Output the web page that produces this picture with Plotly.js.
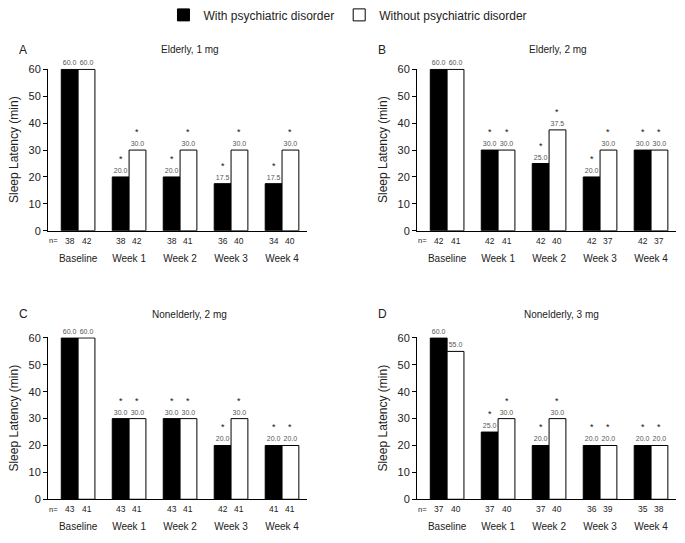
<!DOCTYPE html>
<html>
<head>
<meta charset="utf-8">
<script src="https://cdn.plot.ly/plotly-3.0.1.min.js"></script>
<style>body{margin:0;background:#fff}</style>
</head>
<body>
<div id="chart" style="width:685px;height:543px"></div>
<script>
const categories = ['Baseline', 'Week 1', 'Week 2', 'Week 3', 'Week 4'];
const seriesNames = ['With psychiatric disorder', 'Without psychiatric disorder'];

// panel A: Elderly, 1 mg
const elderly1With = [60, 20, 20, 17.5, 17.5];
const elderly1Without = [60, 30, 30, 30, 30];
const elderly1NWith = [38, 38, 38, 36, 34];
const elderly1NWithout = [42, 42, 41, 40, 40];
// panel B: Elderly, 2 mg
const elderly2With = [60, 30, 25, 20, 30];
const elderly2Without = [60, 30, 37.5, 30, 30];
const elderly2NWith = [42, 42, 42, 42, 42];
const elderly2NWithout = [41, 41, 40, 37, 37];
// panel C: Nonelderly, 2 mg
const nonelderly2With = [60, 30, 30, 20, 20];
const nonelderly2Without = [60, 30, 30, 30, 20];
const nonelderly2NWith = [43, 43, 43, 42, 41];
const nonelderly2NWithout = [41, 41, 41, 41, 41];
// panel D: Nonelderly, 3 mg
const nonelderly3With = [60, 25, 20, 20, 20];
const nonelderly3Without = [55, 30, 30, 20, 20];
const nonelderly3NWith = [37, 37, 37, 36, 35];
const nonelderly3NWithout = [40, 40, 40, 39, 38];
// significance marks (*), same for every panel: all weeks vs baseline
const sigWith = [false, true, true, true, true];
const sigWithout = [false, true, true, true, true];

const FONT = 'Arial, "Liberation Sans", sans-serif';
const BW = 0.33;

const panels = [
  {letter: 'A', title: 'Elderly, 1 mg', w: elderly1With, wo: elderly1Without, nw: elderly1NWith, nwo: elderly1NWithout,
   xd: [0.0701, 0.4482], yd: [0.5783, 0.8785], tx: 0.277, lx: 0.034, ty: 0.913},
  {letter: 'B', title: 'Elderly, 2 mg', w: elderly2With, wo: elderly2Without, nw: elderly2NWith, nwo: elderly2NWithout,
   xd: [0.6088, 0.9869], yd: [0.5783, 0.8785], tx: 0.815, lx: 0.558, ty: 0.913},
  {letter: 'C', title: 'Nonelderly, 2 mg', w: nonelderly2With, wo: nonelderly2Without, nw: nonelderly2NWith, nwo: nonelderly2NWithout,
   xd: [0.0701, 0.4482], yd: [0.0810, 0.3812], tx: 0.277, lx: 0.034, ty: 0.424},
  {letter: 'D', title: 'Nonelderly, 3 mg', w: nonelderly3With, wo: nonelderly3Without, nw: nonelderly3NWith, nwo: nonelderly3NWithout,
   xd: [0.6088, 0.9869], yd: [0.0810, 0.3812], tx: 0.82, lx: 0.558, ty: 0.424}
];

const xs = categories.map((c, i) => i);
let data = [];
let annotations = [];
let layout = {
  width: 685, height: 543,
  margin: {l: 0, r: 0, t: 0, b: 0},
  paper_bgcolor: '#fff', plot_bgcolor: '#fff',
  font: {family: FONT, color: '#222'},
  barmode: 'overlay',
  showlegend: true,
  legend: {orientation: 'h', x: 0.508, xanchor: 'center', y: 0.978, yanchor: 'middle',
           font: {size: 12, family: FONT, color: '#222'}, itemwidth: 30, tracegroupgap: 0}
};

panels.forEach((p, k) => {
  const sx = k == 0 ? '' : String(k + 1);
  const xa = 'x' + sx, ya = 'y' + sx;
  const fmt = v => v.toFixed(1);
  data.push({
    type: 'bar', name: seriesNames[0], x: xs, y: p.w, xaxis: xa, yaxis: ya,
    width: BW, offset: -BW,
    marker: {color: '#000', line: {color: '#000', width: 1}},
    text: p.w.map(fmt), textposition: 'outside', constraintext: 'none', cliponaxis: false,
    textfont: {size: 7, color: '#555', family: FONT},
    legendgroup: 'with', showlegend: k == 0, hoverinfo: 'y'
  });
  data.push({
    type: 'bar', name: seriesNames[1], x: xs, y: p.wo, xaxis: xa, yaxis: ya,
    width: BW, offset: 0,
    marker: {color: '#fff', line: {color: '#000', width: 1}},
    text: p.wo.map(fmt), textposition: 'outside', constraintext: 'none', cliponaxis: false,
    textfont: {size: 7, color: '#555', family: FONT},
    legendgroup: 'without', showlegend: k == 0, hoverinfo: 'y'
  });

  layout['xaxis' + sx] = {
    domain: p.xd, anchor: ya, range: [-0.59, 4.49],
    showline: true, linecolor: '#000', linewidth: 1, ticks: '', showgrid: false, zeroline: false,
    tickvals: xs, ticktext: categories, tickfont: {size: 10, family: FONT, color: '#222'},
    ticklabelstandoff: 18
  };
  layout['yaxis' + sx] = {
    domain: p.yd, anchor: xa, range: [0, 60.3], dtick: 10, tick0: 0,
    showline: true, linecolor: '#000', linewidth: 1, ticks: 'outside', ticklen: 4, tickcolor: '#000',
    showgrid: false, zeroline: false, tickfont: {size: 11, family: FONT, color: '#222'},
    title: {text: 'Sleep Latency (min)', font: {size: 12, family: FONT, color: '#222'}, standoff: 7}
  };

  // asterisks above bars, n counts below
  xs.forEach(i => {
    if (sigWith[i])
      annotations.push({xref: xa, yref: ya, x: i - BW / 2, y: p.w[i], yshift: 18, text: '*', showarrow: false,
                        font: {size: 9, color: '#111'}, yanchor: 'middle'});
    if (sigWithout[i])
      annotations.push({xref: xa, yref: ya, x: i + BW / 2, y: p.wo[i], yshift: 18, text: '*', showarrow: false,
                        font: {size: 9, color: '#111'}, yanchor: 'middle'});
    annotations.push({xref: xa, yref: ya, x: i - BW / 2, y: 0, yshift: -10, text: String(p.nw[i]), showarrow: false,
                      font: {size: 8.5, color: '#222'}, yanchor: 'middle'});
    annotations.push({xref: xa, yref: ya, x: i + BW / 2, y: 0, yshift: -10, text: String(p.nwo[i]), showarrow: false,
                      font: {size: 8.5, color: '#222'}, yanchor: 'middle'});
  });
  annotations.push({xref: xa, yref: ya, x: -0.49, y: 0, yshift: -10, text: 'n=', showarrow: false,
                    font: {size: 7.5, color: '#222'}, yanchor: 'middle'});
  // panel title and letter
  annotations.push({xref: 'paper', yref: 'paper', x: p.tx, y: p.ty, text: p.title, showarrow: false,
                    font: {size: 10, color: '#222'}, xanchor: 'center', yanchor: 'middle'});
  annotations.push({xref: 'paper', yref: 'paper', x: p.lx, y: p.ty, text: p.letter, showarrow: false,
                    font: {size: 12, color: '#222'}, xanchor: 'center', yanchor: 'middle'});
});

layout.annotations = annotations;
Plotly.newPlot('chart', data, layout, {displayModeBar: false, staticPlot: true});
</script>
</body>
</html>
